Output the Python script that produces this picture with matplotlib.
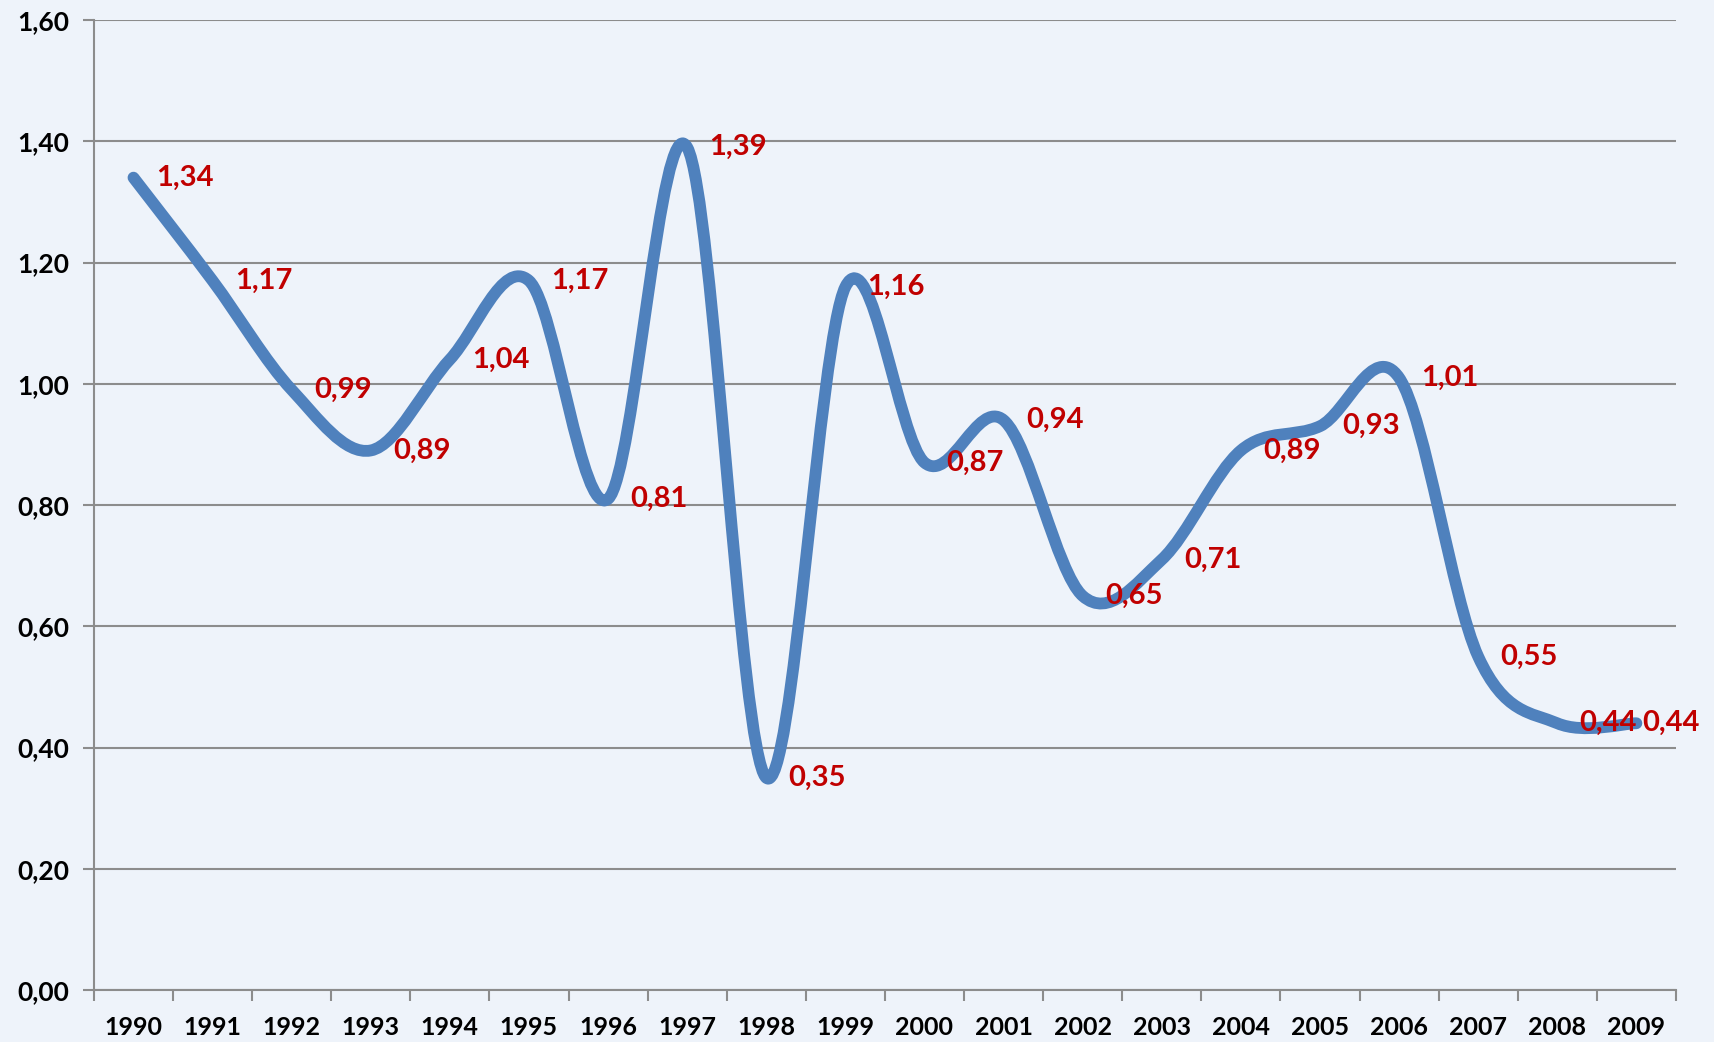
import numpy as np
import matplotlib.pyplot as plt
from matplotlib.path import Path
from matplotlib.patches import PathPatch
from matplotlib.ticker import FuncFormatter, FixedLocator

# Data
years = [1990, 1991, 1992, 1993, 1994, 1995, 1996, 1997, 1998, 1999,
         2000, 2001, 2002, 2003, 2004, 2005, 2006, 2007, 2008, 2009]
values = [1.34, 1.17, 0.99, 0.89, 1.04, 1.17, 0.81, 1.39, 0.35, 1.16,
          0.87, 0.94, 0.65, 0.71, 0.89, 0.93, 1.01, 0.55, 0.44, 0.44]

bg = '#EEF3FA'
line_color = '#4F81BD'
label_color = '#C00000'
grid_color = '#8C8C8C'

plt.rcParams['font.family'] = ['Lato', 'DejaVu Sans']

fig = plt.figure(figsize=(17.14, 10.42), dpi=100, facecolor=bg)
ax = fig.add_axes([0.0548, 0.0499, 0.9778 - 0.0548, 0.9808 - 0.0499])
ax.set_facecolor(bg)

x = np.arange(len(years), dtype=float)
y = np.array(values)

# Smoothed line (Excel-like) built as cubic Bezier path
pts = np.column_stack([x, y])
ext = np.vstack([pts[0], pts, pts[-1]])
verts = [tuple(pts[0])]
codes = [Path.MOVETO]
for i in range(len(pts) - 1):
    p0, p1, p2, p3 = ext[i], ext[i + 1], ext[i + 2], ext[i + 3]
    c1 = p1 + (p2 - p0) / 6.0
    c2 = p2 - (p3 - p1) / 6.0
    verts += [tuple(c1), tuple(c2), tuple(p2)]
    codes += [Path.CURVE4] * 3
patch = PathPatch(Path(verts, codes), facecolor='none', edgecolor=line_color,
                  lw=8.5, capstyle='round', joinstyle='round', zorder=3)
ax.add_patch(patch)

# Data labels (last one pulled in to stay inside the chart, as Excel does)
for i, (xi, yi) in enumerate(zip(x, y)):
    dx = 4 if i == len(x) - 1 else 16
    ax.annotate(f"{yi:.2f}".replace('.', ','), (xi, yi), xytext=(dx, 0),
                textcoords='offset points', ha='left', va='center',
                color=label_color, fontsize=21, fontweight='bold', zorder=4,
                annotation_clip=False)

ax.set_xlim(-0.5, len(years) - 0.5)
ax.set_ylim(0, 1.6)
ax.set_yticks(np.arange(0, 1.61, 0.2))
ax.yaxis.set_major_formatter(FuncFormatter(lambda v, p: f"{v:.2f}".replace('.', ',')))

ax.xaxis.set_major_locator(FixedLocator(np.arange(-0.5, len(years), 1.0)))
ax.xaxis.set_minor_locator(FixedLocator(x))
ax.set_xticklabels([], minor=False)
ax.set_xticklabels([str(yr) for yr in years], minor=True)
ax.tick_params(axis='x', which='major', length=8, width=1.5, color=grid_color, direction='out')
ax.tick_params(axis='x', which='minor', length=0, pad=19, labelsize=18)
ax.tick_params(axis='y', length=8, width=1.5, color=grid_color, pad=10, labelsize=19)
for lbl in ax.get_xticklabels(minor=True) + ax.get_yticklabels():
    lbl.set_fontweight('bold')

ax.grid(axis='y', color=grid_color, lw=1.5)
ax.set_axisbelow(True)
for s in ['top', 'right']:
    ax.spines[s].set_visible(False)
for s in ['left', 'bottom']:
    ax.spines[s].set_color(grid_color)
    ax.spines[s].set_linewidth(1.5)

fig.savefig('out.png', dpi=100, facecolor=bg)
